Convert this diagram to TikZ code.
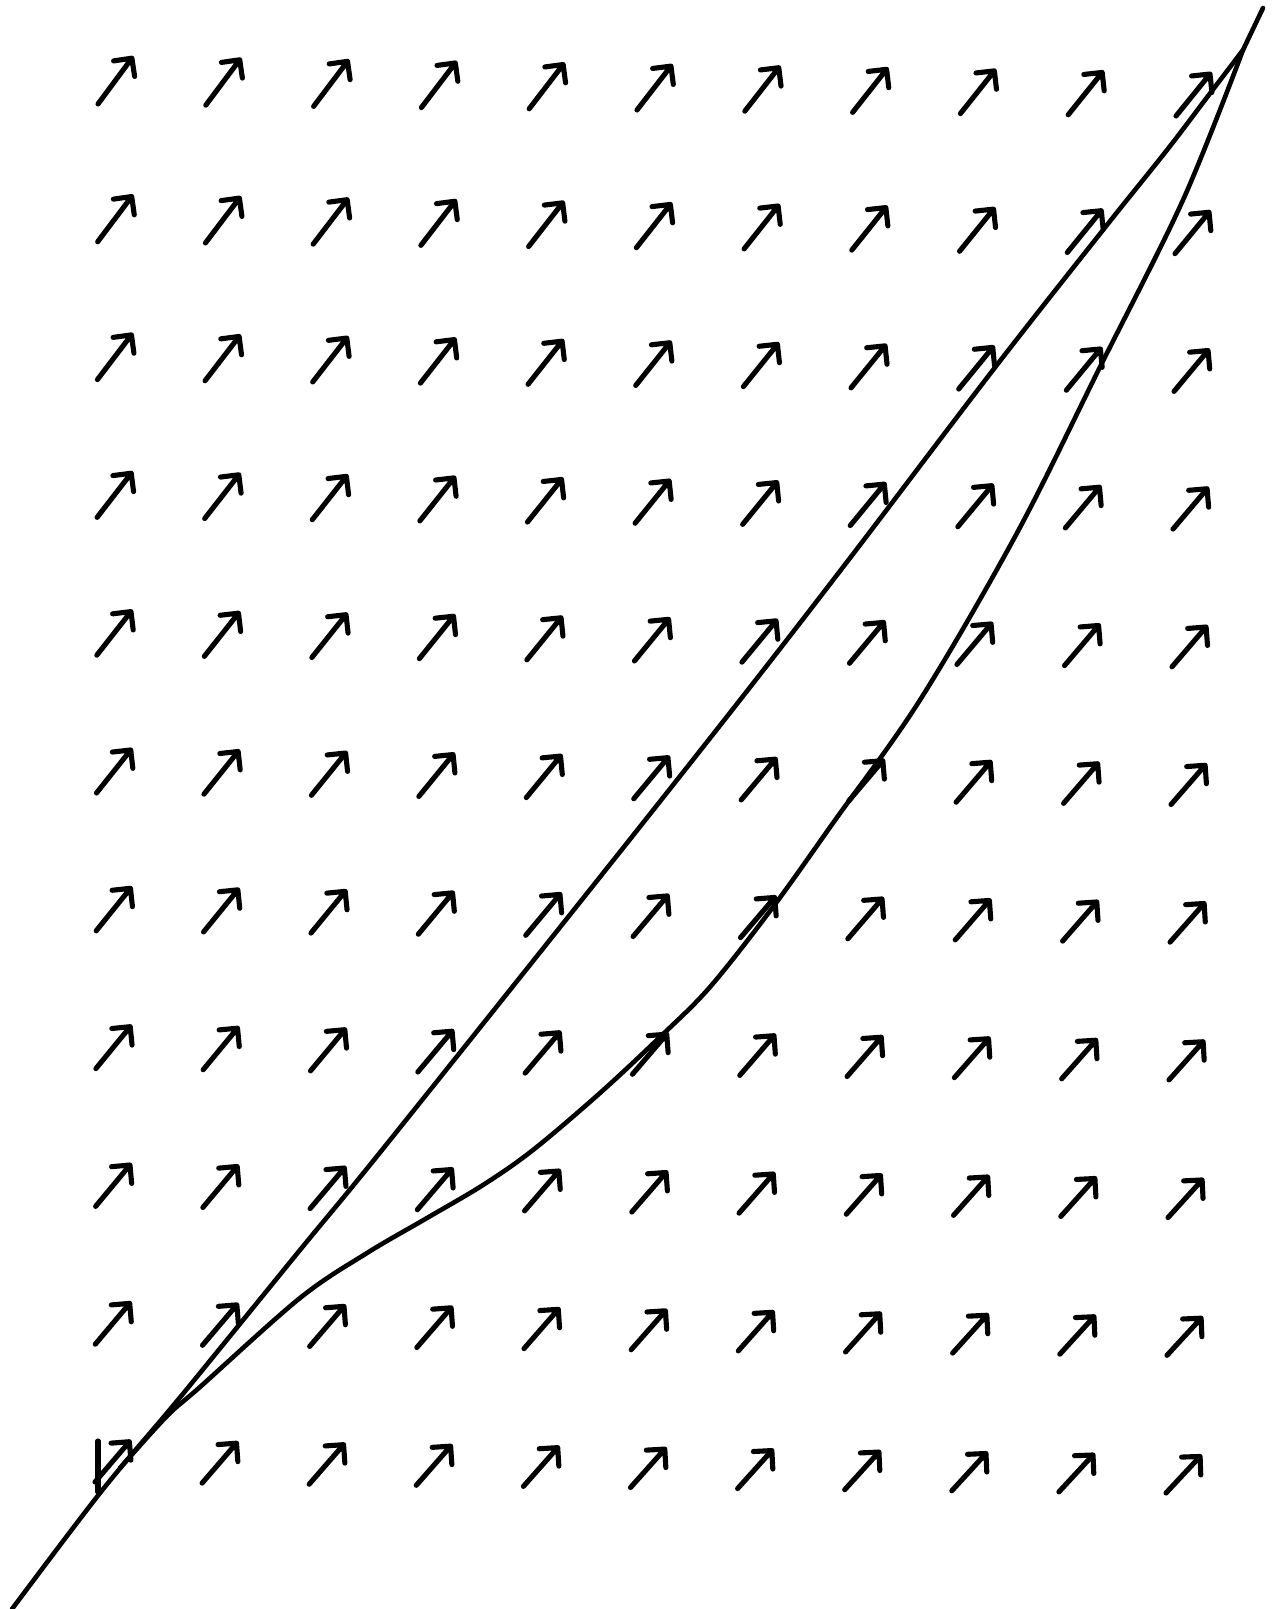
\documentclass[tikz,border=0pt]{standalone}
\begin{document}
\begin{tikzpicture}[x=1pt,y=-1pt,
  fieldarrow/.style={line width=5.1pt,line cap=round,line join=round},
  solcurve/.style={line width=4.6pt,line cap=round,line join=round}]
\useasboundingbox (0,0) rectangle (1274,1609);
\fill[white] (0,0) rectangle (1274,1609);
% slope field
\foreach \i in {0,...,10}{
 \foreach \j in {0,...,10}{
  \pgfmathsetmacro\u{\i/10}
  \pgfmathsetmacro\v{\j/10}
  \pgfmathsetmacro\tx{98*(1-\u)*(1-\v)+1176*\u*(1-\v)+95*(1-\u)*\v+1166*\u*\v}
  \pgfmathsetmacro\ty{104*(1-\u)*(1-\v)+116*\u*(1-\v)+1482*(1-\u)*\v+1493*\u*\v}
  \pgfmathsetmacro\ang{53.5-0.25*\i-0.4*\j}
  \pgfmathsetmacro\len{57-0.3*\i-0.4*\j}
  \pgfmathsetmacro\hx{\tx+\len*cos(\ang)}
  \pgfmathsetmacro\hy{\ty-\len*sin(\ang)}
  \pgfmathsetmacro\ax{\hx+18.5*cos(\ang+135)}
  \pgfmathsetmacro\ay{\hy-18.5*sin(\ang+135)}
  \pgfmathsetmacro\bx{\hx+18.5*cos(\ang+225)}
  \pgfmathsetmacro\by{\hy-18.5*sin(\ang+225)}
  \draw[fieldarrow] (\tx,\ty) -- (\hx,\hy) (\ax,\ay) -- (\hx,\hy) -- (\bx,\by);
 }
}
% stray vertical mark at bottom-left arrow
\draw[fieldarrow] (98,1441) -- (98,1492);
% solution curve A
\draw[solcurve] plot[smooth,tension=0.55] coordinates {(12,1609) (100,1493) (167,1413) (200,1373) (300,1250) (382,1150) (600,877) (740,700) (850,558) (993,370) (1103,230) (1167,150) (1205,100) (1243,50)} -- (1263,8);
% solution curve B
\draw[solcurve] plot[smooth,tension=0.55] coordinates {(120,1468) (167,1416) (200,1387) (300,1298) (367,1253) (427,1218) (483,1185) (533,1150) (600,1093) (660,1037) (710,987) (773,907) (833,823) (920,700) (1017,533) (1100,367) (1183,200) (1243,50)};
\end{tikzpicture}
\end{document}
